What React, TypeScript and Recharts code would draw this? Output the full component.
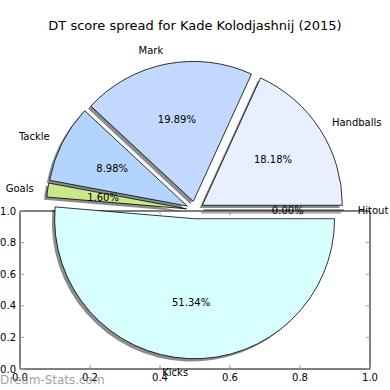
import React from "react";
import { PieChart, Pie, Sector, ScatterChart, Scatter, XAxis, YAxis } from "recharts";

// DT score share per stat (percent of season total)
const categories = ["Handballs", "Mark", "Tackle", "Goals", "Kicks", "Hitout"];
const shares = [18.18, 19.89, 8.98, 1.6, 51.34, 0.0];
const sliceColors = ["#e8f0ff", "#c3d8ff", "#b2d4ff", "#c8e88a", "#d8ffff", "#ffffff"];
const axisTicks = [0, 0.2, 0.4, 0.6, 0.8, 1.0];
// corners of the empty 0..1 axes that sits under the pie
const frameCorners = [
  { x: 0, y: 0 },
  { x: 1, y: 1 },
];

const title = "DT score spread for Kade Kolodjashnij (2015)";
const FONT = "DejaVu Sans, sans-serif";

const W = 390;
const H = 390;
const PIE_CX = 195;
const PIE_CY = 210;
const PIE_R = 140;
const EXPLODE = 0.0625; // fraction of radius
const SHADOW = 2.8;
const RAD = Math.PI / 180;

const pieData = categories.map((name, i) => ({ name, value: shares[i], color: sliceColors[i] }));

function offsetFor(midAngle: number, r: number) {
  const e = EXPLODE * r;
  return { dx: e * Math.cos(-midAngle * RAD), dy: e * Math.sin(-midAngle * RAD) };
}

function makeSliceShape(shadow: boolean) {
  return (props: any) => {
    const { cx, cy, outerRadius, startAngle, endAngle, midAngle, payload } = props;
    const { dx, dy } = offsetFor(midAngle, outerRadius);
    const sx = shadow ? -SHADOW : 0;
    const sy = shadow ? SHADOW : 0;
    const x0 = cx + dx + sx;
    const y0 = cy + dy + sy;
    if (Math.abs(endAngle - startAngle) < 1e-6) {
      // zero-size wedge: matplotlib still draws its edge
      const x1 = x0 + outerRadius * Math.cos(-startAngle * RAD);
      const y1 = y0 + outerRadius * Math.sin(-startAngle * RAD);
      return (
        <line
          x1={x0}
          y1={y0}
          x2={x1}
          y2={y1}
          stroke="#000"
          strokeOpacity={shadow ? 0.3 : 1}
          strokeWidth={shadow ? 2 : 0.8}
        />
      );
    }
    return (
      <Sector
        cx={x0}
        cy={y0}
        innerRadius={0}
        outerRadius={outerRadius}
        startAngle={startAngle}
        endAngle={endAngle}
        fill={shadow ? "#000" : payload?.color ?? props.fill}
        fillOpacity={shadow ? 0.45 : 1}
        stroke={shadow ? "none" : "#000"}
        strokeWidth={0.8}
      />
    );
  };
}

const renderLabel = (props: any) => {
  const { cx, cy, midAngle, outerRadius, payload, value } = props;
  const { dx, dy } = offsetFor(midAngle, outerRadius);
  const ux = Math.cos(-midAngle * RAD);
  const uy = Math.sin(-midAngle * RAD);
  const bx = cx + dx;
  const by = cy + dy;
  const lx = bx + 1.1 * outerRadius * ux;
  const ly = by + 1.1 * outerRadius * uy;
  const px = bx + 0.6 * outerRadius * ux;
  const py = by + 0.6 * outerRadius * uy;
  return (
    <g>
      <text
        x={lx}
        y={ly}
        textAnchor={ux > 0 ? "start" : "end"}
        dominantBaseline="central"
        fontFamily={FONT}
        fontSize={10}
        fill="#000"
      >
        {payload?.name}
      </text>
      <text
        x={px}
        y={py}
        textAnchor="middle"
        dominantBaseline="central"
        fontFamily={FONT}
        fontSize={10}
        fill="#000"
      >
        {`${Number(value).toFixed(2)}%`}
      </text>
    </g>
  );
};

const fmt = (v: number) => v.toFixed(1);

const BottomTick = (props: any) => {
  const { x, y, payload } = props;
  const axisY = y - 5;
  return (
    <g>
      <line x1={x} y1={axisY} x2={x} y2={axisY - 4} stroke="#999" />
      <text x={x} y={y} dy="0.71em" textAnchor="middle" fontFamily={FONT} fontSize={10} fill="#000">
        {fmt(payload.value)}
      </text>
    </g>
  );
};

const LeftTick = (props: any) => {
  const { x, y, payload } = props;
  const axisX = x + 4;
  return (
    <g>
      <line x1={axisX} y1={y} x2={axisX + 4} y2={y} stroke="#999" />
      <text x={x} y={y} dy="0.355em" textAnchor="end" fontFamily={FONT} fontSize={10} fill="#000">
        {fmt(payload.value)}
      </text>
    </g>
  );
};

const TopTick = (props: any) => {
  const { x, y } = props;
  return <line x1={x} y1={y} x2={x} y2={y + 4} stroke="#999" />;
};

const RightTick = (props: any) => {
  const { x, y } = props;
  return <line x1={x} y1={y} x2={x - 4} y2={y} stroke="#999" />;
};

const NoDot = () => <g />;

export default function App() {
  return (
    <div style={{ position: "absolute", left: 0, top: 0, width: W, height: H, background: "#fff" }}>
      <div style={{ position: "absolute", left: 0, top: 0 }}>
        <ScatterChart width={W} height={H} margin={{ top: 200, right: 0, bottom: 0, left: 0 }}>
          <XAxis
            xAxisId="b"
            type="number"
            dataKey="x"
            domain={[0, 1]}
            ticks={axisTicks}
            height={21}
            tickSize={0}
            tickMargin={5}
            tick={<BottomTick />}
            axisLine={{ stroke: "#000" }}
            tickLine={false}
            interval={0}
          />
          <XAxis
            xAxisId="t"
            orientation="top"
            type="number"
            dataKey="x"
            domain={[0, 1]}
            ticks={axisTicks}
            height={11}
            tickSize={0}
            tickMargin={0}
            tick={<TopTick />}
            axisLine={{ stroke: "#000" }}
            tickLine={false}
            interval={0}
          />
          <YAxis
            yAxisId="l"
            type="number"
            dataKey="y"
            domain={[0, 1]}
            ticks={axisTicks}
            width={20}
            tickSize={0}
            tickMargin={4}
            tick={<LeftTick />}
            axisLine={{ stroke: "#000" }}
            tickLine={false}
            interval={0}
          />
          <YAxis
            yAxisId="r"
            orientation="right"
            type="number"
            dataKey="y"
            domain={[0, 1]}
            ticks={axisTicks}
            width={20}
            tickSize={0}
            tickMargin={0}
            tick={<RightTick />}
            axisLine={{ stroke: "#000" }}
            tickLine={false}
            interval={0}
          />
          <Scatter xAxisId="b" yAxisId="l" data={frameCorners} shape={<NoDot />} isAnimationActive={false} />
          <Scatter xAxisId="t" yAxisId="r" data={frameCorners} shape={<NoDot />} isAnimationActive={false} />
        </ScatterChart>
      </div>
      <div style={{ position: "absolute", left: 0, top: 0 }}>
        <PieChart width={W} height={H} margin={{ top: 0, right: 0, bottom: 0, left: 0 }}>
          <Pie
            data={pieData}
            dataKey="value"
            nameKey="name"
            cx={PIE_CX}
            cy={PIE_CY}
            outerRadius={PIE_R}
            startAngle={0}
            endAngle={360}
            shape={makeSliceShape(true)}
            label={false}
            labelLine={false}
            isAnimationActive={false}
          />
          <Pie
            data={pieData}
            dataKey="value"
            nameKey="name"
            cx={PIE_CX}
            cy={PIE_CY}
            outerRadius={PIE_R}
            startAngle={0}
            endAngle={360}
            shape={makeSliceShape(false)}
            label={renderLabel}
            labelLine={false}
            isAnimationActive={false}
          />
          <text x={W / 2} y={25} textAnchor="middle" dominantBaseline="central" fontFamily={FONT} fontSize={13} fill="#000">
            {title}
          </text>
          <text x={0} y={380} dominantBaseline="central" fontFamily={FONT} fontSize={12} fill="#777" fillOpacity={0.7}>
            Dream-Stats.com
          </text>
        </PieChart>
      </div>
    </div>
  );
}
